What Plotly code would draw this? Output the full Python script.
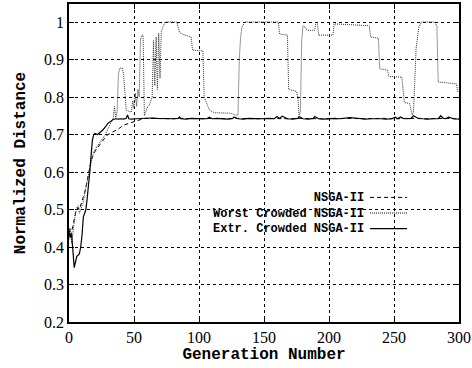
import plotly.graph_objects as go

# ---------------- data ----------------
nsga_gen = [0, 1, 2, 3, 4, 5, 6, 7, 8, 9, 10, 11, 12, 13, 14, 15, 16, 17, 18, 19, 20, 22, 24, 26, 28, 30,
            34, 38, 42, 46, 50, 54, 58, 62, 68, 74, 80, 86, 92, 98, 104, 110, 116, 122, 128, 134, 140,
            146, 152, 158, 164, 170, 176, 182, 188, 194, 200, 206, 212, 218, 224, 230, 236, 242, 248,
            254, 260, 266, 272, 278, 284, 290, 296, 300]
nsga_val = [0.45, 0.43, 0.44, 0.46, 0.47, 0.49, 0.50, 0.505, 0.50, 0.51, 0.52, 0.53, 0.545, 0.56, 0.58,
            0.60, 0.615, 0.63, 0.64, 0.65, 0.655, 0.665, 0.675, 0.685, 0.693, 0.70,
            0.707, 0.715, 0.725, 0.73, 0.735, 0.74, 0.743, 0.743, 0.742, 0.743, 0.742, 0.743, 0.742,
            0.743, 0.742, 0.743, 0.742, 0.742, 0.743, 0.742, 0.743, 0.742, 0.743, 0.742, 0.743, 0.742,
            0.743, 0.742, 0.743, 0.742, 0.742, 0.743, 0.742, 0.743, 0.742, 0.743, 0.742, 0.743, 0.742,
            0.743, 0.742, 0.743, 0.742, 0.743, 0.742, 0.743, 0.742, 0.742]

worst_gen = [0, 1, 2, 3, 4, 5, 6, 7, 8, 9, 10, 11, 12, 13, 14, 15, 16, 17, 18, 19, 20, 22, 24, 26, 28, 30,
             32, 34, 35, 36, 37, 38, 39, 41, 42, 44, 46, 48, 49, 50, 51, 52, 53, 54, 55, 56, 57, 58, 60,
             62, 64, 65, 66, 67, 68, 69, 70, 71, 72, 74, 83, 85, 87, 94, 95, 103, 104, 106, 108, 112,
             124, 128, 130, 131, 132, 133, 135, 161, 162, 168, 169, 175, 176, 177, 178, 179, 180, 182,
             183, 189, 190, 191, 192, 203, 204, 231, 232, 238, 239, 245, 246, 256, 257, 258, 262, 264,
             265, 267, 269, 271, 281, 283, 284, 298, 299, 300]
worst_val = [0.42, 0.45, 0.41, 0.44, 0.47, 0.49, 0.505, 0.51, 0.49, 0.50, 0.51, 0.52, 0.54, 0.56, 0.58,
             0.595, 0.61, 0.625, 0.64, 0.655, 0.66, 0.67, 0.68, 0.69, 0.70, 0.715,
             0.73, 0.744, 0.775, 0.745, 0.76, 0.86, 0.877, 0.877, 0.86, 0.765, 0.762, 0.76, 0.79, 0.77,
             0.81, 0.775, 0.82, 0.80, 0.955, 0.965, 0.965, 0.75, 0.77,
             0.78, 0.80, 0.95, 0.83, 0.96, 0.82, 0.97, 0.85, 0.975, 0.985, 1.0, 1.0, 0.972, 0.968, 0.96,
             0.925, 0.923, 0.80, 0.78, 0.765, 0.758,
             0.757, 0.752, 0.752, 0.90, 0.96, 0.985, 1.0, 1.0, 0.968, 0.965, 0.82, 0.815, 0.80, 0.752,
             0.76, 0.95, 0.99, 0.985,
             0.978, 0.978, 1.0, 1.0, 0.965, 0.965, 0.995, 0.99, 0.96, 0.957, 0.875, 0.872, 0.855, 0.853,
             0.82, 0.785, 0.783, 0.752,
             0.76, 0.93, 0.985, 1.0, 1.0, 0.99, 0.84, 0.835, 0.815, 0.815]

extr_gen = [0, 1, 2, 3, 4, 5, 6, 7, 8, 9, 10, 11, 12, 13, 14, 15, 16, 17, 18, 19, 20, 22, 24, 26, 28, 30,
            32, 34, 36, 38, 40, 42, 44, 45, 46, 48, 52, 56, 60, 64, 68, 72, 76, 80, 84, 85, 86, 90, 94,
            98, 102, 106, 108, 110, 114, 118, 122, 126, 127, 130, 134, 138, 142, 146, 150, 154, 158, 160,
            162, 164, 168, 172, 176, 177, 180, 184, 188, 189, 192, 196, 200, 204, 208, 212, 216, 220,
            224, 228, 232, 236, 240, 244, 248, 251, 253, 255, 257, 260, 263, 265, 268, 272, 276, 280,
            284, 286, 288, 290, 292, 296, 300]
extr_val = [0.44, 0.425, 0.435, 0.39, 0.345, 0.36, 0.375, 0.378, 0.382, 0.40, 0.43, 0.48, 0.49, 0.50,
            0.53, 0.56, 0.60, 0.645, 0.685, 0.70, 0.703, 0.70, 0.705, 0.712, 0.72, 0.73,
            0.735, 0.74, 0.742, 0.741, 0.742, 0.741, 0.743, 0.752, 0.742, 0.741, 0.742, 0.743, 0.742,
            0.744, 0.743, 0.742, 0.743, 0.742, 0.743, 0.747, 0.742, 0.741, 0.743,
            0.742, 0.743, 0.742, 0.746, 0.742, 0.743, 0.742, 0.741, 0.743, 0.747, 0.742, 0.741, 0.743,
            0.742, 0.741, 0.742, 0.743, 0.742, 0.748,
            0.743, 0.749, 0.742, 0.741, 0.743, 0.748, 0.742, 0.741, 0.743, 0.748, 0.742, 0.741, 0.742,
            0.743, 0.742, 0.744, 0.745, 0.744,
            0.742, 0.741, 0.742, 0.743, 0.742, 0.741, 0.742, 0.746, 0.742, 0.747, 0.743, 0.742, 0.743,
            0.750, 0.744, 0.742, 0.741, 0.742,
            0.742, 0.750, 0.743, 0.742, 0.746, 0.742, 0.741]

x_ticks = [0, 50, 100, 150, 200, 250, 300]
y_ticks = [0.2, 0.3, 0.4, 0.5, 0.6, 0.7, 0.8, 0.9, 1.0]
y_tick_text = ["0.2", "0.3", "0.4", "0.5", "0.6", "0.7", "0.8", "0.9", "1"]

legend_names = ["NSGA-II", "Worst Crowded NSGA-II", "Extr. Crowded NSGA-II"]
legend_dashes = ["4px,3px", "1px,1px", "solid"]

# ---------------- figure ----------------
fig = go.Figure()
fig.add_trace(go.Scatter(x=nsga_gen, y=nsga_val, mode="lines",
                         line=dict(color="black", width=1, dash=legend_dashes[0]),
                         showlegend=False))
fig.add_trace(go.Scatter(x=worst_gen, y=worst_val, mode="lines",
                         line=dict(color="#333333", width=1, dash=legend_dashes[1]),
                         showlegend=False))
fig.add_trace(go.Scatter(x=extr_gen, y=extr_val, mode="lines",
                         line=dict(color="black", width=1.2, dash=legend_dashes[2]),
                         showlegend=False))

mono = "Liberation Mono, Courier New, DejaVu Sans Mono, monospace"
serif = "Liberation Serif, Times New Roman, DejaVu Serif, serif"

# custom gnuplot-style legend: right-aligned text block, samples to the right
font_size = 12
line_h = font_size * 1.3          # plotly line height for multi-line text
center_px = 213                    # vertical centre of the legend block (px from top)
plot_top, plot_h = 4, 318
fig.add_annotation(x=0.7615, y=(plot_top + plot_h - center_px) / plot_h, xref="paper", yref="paper",
                   text="<br>".join("<b>" + n + "</b>" for n in legend_names),
                   showarrow=False, xanchor="right", yanchor="middle", align="right",
                   font=dict(family=mono, size=font_size, color="black"))
for i, dash in enumerate(legend_dashes):
    row_px = center_px + (i - 1) * line_h
    yy = (plot_top + plot_h - row_px) / plot_h
    fig.add_shape(type="line", xref="paper", yref="paper", x0=0.772, x1=0.867, y0=yy, y1=yy,
                  line=dict(color="black", width=1.2 if dash == "solid" else 1, dash=dash))

axis_common = dict(showline=True, linecolor="black", linewidth=1.5, mirror="ticks",
                   ticks="inside", ticklen=5, tickcolor="black", tickwidth=1,
                   showgrid=True, gridcolor="black", gridwidth=1, griddash="dot",
                   zeroline=False, automargin=False,
                   tickfont=dict(family=serif, size=16, color="black"))

fig.update_xaxes(range=[0, 300], tickvals=x_ticks,
                 title=dict(text="<b>Generation Number</b>", standoff=0,
                            font=dict(family=mono, size=16, color="black")),
                 **axis_common)
fig.update_yaxes(range=[0.2, 1.048], tickvals=y_ticks, ticktext=y_tick_text,
                 title=dict(text="<b>Normalized Distance</b>", standoff=14,
                            font=dict(family=mono, size=16, color="black")),
                 **axis_common)

fig.update_layout(width=472, height=368, margin=dict(l=69, r=13, t=4, b=46),
                  paper_bgcolor="white", plot_bgcolor="white", showlegend=False)

fig.write_html("out.html")
